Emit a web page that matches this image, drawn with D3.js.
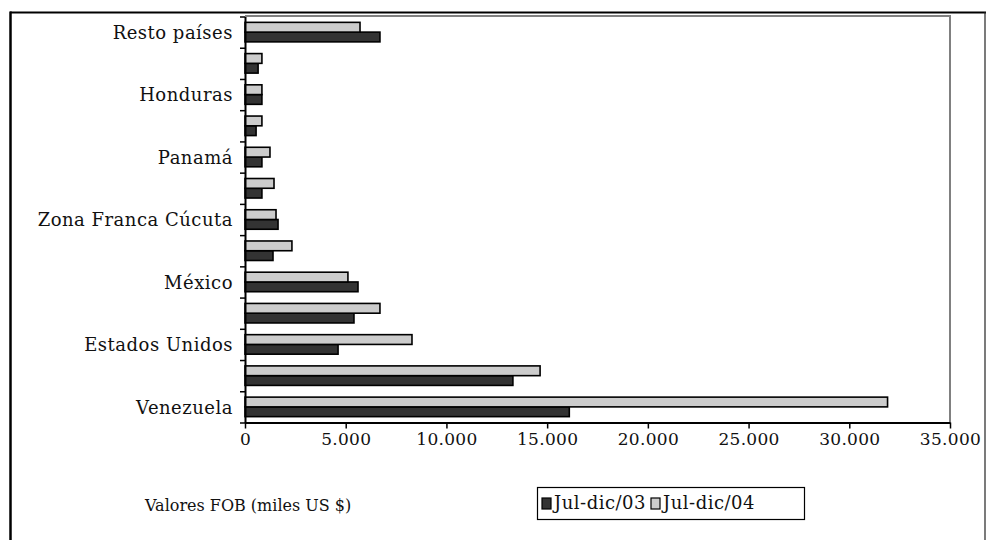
<!DOCTYPE html>
<html>
<head>
<meta charset="utf-8">
<script src="https://cdn.jsdelivr.net/npm/d3@7"></script>
<style>
  html, body { margin: 0; padding: 0; background: #fff; }
  svg { display: block; }
  text { font-family: "DejaVu Serif", "Liberation Serif", serif; fill: #111; }
</style>
</head>
<body>
<svg id="chart" width="986" height="540"></svg>
<script>
// Categories from top to bottom (empty = label skipped in the original)
const categories = ["Resto países", "", "Honduras", "", "Panamá", "", "Zona Franca Cúcuta", "", "México", "", "Estados Unidos", "", "Venezuela"];
const series03 = [6700, 650, 840, 550, 840, 840, 1640, 1390, 5610, 5410, 4620, 13300, 16100];
const series04 = [5710, 840, 840, 840, 1240, 1440, 1540, 2330, 5110, 6700, 8290, 14650, 31900];
const seriesNames = ["Jul-dic/03", "Jul-dic/04"];
const xTicks = [0, 5000, 10000, 15000, 20000, 25000, 30000, 35000];
const axisTitle = "Valores FOB (miles US $)";

const colors = {"Jul-dic/03": "#333333", "Jul-dic/04": "#cccccc"};

const svg = d3.select("#chart");
const W = 986, H = 540;
const plot = {left: 245, right: 950, top: 16.5, bottom: 422.5};
const FONT = "DejaVu Serif";

const locale = d3.formatLocale({decimal: ",", thousands: ".", grouping: [3], currency: ["$", ""]});
const fmt = locale.format(",.0f");

// Outer frame
svg.append("line").attr("x1", 10).attr("x2", 986).attr("y1", 12.5).attr("y2", 12.5)
  .attr("stroke", "#000").attr("stroke-width", 2);
svg.append("line").attr("x1", 10.5).attr("x2", 10.5).attr("y1", 11.5).attr("y2", H)
  .attr("stroke", "#000").attr("stroke-width", 2.5);
svg.append("line").attr("x1", 985).attr("x2", 985).attr("y1", 12).attr("y2", H)
  .attr("stroke", "#222").attr("stroke-width", 1.2);

const x = d3.scaleLinear().domain([0, 35000]).range([plot.left, plot.right]);
const idx = d3.range(categories.length);
const y = d3.scaleBand().domain(idx).range([plot.top, plot.bottom]).paddingInner(0).paddingOuter(0);
const sub = d3.scaleBand().domain(["Jul-dic/04", "Jul-dic/03"]).range([0, y.bandwidth()]).paddingInner(0).paddingOuter(0.6);

// Plot area border (top and right, gray)
svg.append("path")
  .attr("d", `M${plot.left},${plot.top - 0.5}H${plot.right}V${plot.bottom}`)
  .attr("fill", "none").attr("stroke", "#808080").attr("stroke-width", 2);

// Bars
const rows = idx.map(i => ({i, "Jul-dic/03": series03[i], "Jul-dic/04": series04[i]}));
const g = svg.append("g");
rows.forEach(r => {
  seriesNames.forEach(s => {
    g.append("rect")
      .attr("x", x(0))
      .attr("y", y(r.i) + sub(s))
      .attr("width", x(r[s]) - x(0))
      .attr("height", sub.bandwidth())
      .attr("fill", colors[s])
      .attr("stroke", "#000")
      .attr("stroke-width", 1.6);
  });
});

// Y axis: ticks at category boundaries
const yb = d3.scaleLinear().domain([0, categories.length]).range([plot.top, plot.bottom]);
const yAxisG = svg.append("g").attr("transform", `translate(${plot.left},0)`)
  .call(d3.axisLeft(yb).tickValues(d3.range(categories.length + 1)).tickFormat("").tickSize(5).tickSizeOuter(0));
yAxisG.select(".domain").attr("stroke", "#000").attr("stroke-width", 2);
yAxisG.selectAll(".tick line").attr("stroke", "#000").attr("stroke-width", 1.5);

// Y labels
const yLab = svg.append("g").attr("transform", `translate(${plot.left},0)`)
  .call(d3.axisLeft(y).tickSize(0).tickPadding(12).tickFormat(i => categories[i]));
yLab.select(".domain").remove();
yLab.selectAll("text").attr("font-family", FONT).attr("font-size", 18).attr("letter-spacing", 0.5)
  .attr("fill", "#111").attr("dy", "0.38em");

// X axis
const xAxisG = svg.append("g").attr("transform", `translate(0,${plot.bottom})`)
  .call(d3.axisBottom(x).tickValues(xTicks).tickFormat(fmt).tickSize(6).tickSizeOuter(0).tickPadding(4));
xAxisG.select(".domain").attr("stroke", "#000").attr("stroke-width", 2);
xAxisG.selectAll(".tick line").attr("stroke", "#000").attr("stroke-width", 1.5);
xAxisG.selectAll("text").attr("font-family", FONT).attr("font-size", 17).attr("letter-spacing", 0.3).attr("fill", "#111");

// Axis title
svg.append("text").attr("x", 145).attr("y", 511).attr("font-family", FONT).attr("font-size", 16)
  .text(axisTitle);

// Legend
const leg = svg.append("g").attr("transform", "translate(537,487)");
leg.append("rect").attr("x", 0.5).attr("y", 0.5).attr("width", 267).attr("height", 32)
  .attr("fill", "#fff").attr("stroke", "#000").attr("stroke-width", 1.2);
const legX = [5, 114];
seriesNames.forEach((s, k) => {
  leg.append("rect").attr("x", legX[k]).attr("y", 11).attr("width", 9).attr("height", 11)
    .attr("fill", colors[s]).attr("stroke", "#000").attr("stroke-width", 1.2);
  leg.append("text").attr("x", legX[k] + 12).attr("y", 22).attr("font-family", FONT).attr("font-size", 18)
    .attr("letter-spacing", 0.5).text(s);
});
</script>
</body>
</html>
